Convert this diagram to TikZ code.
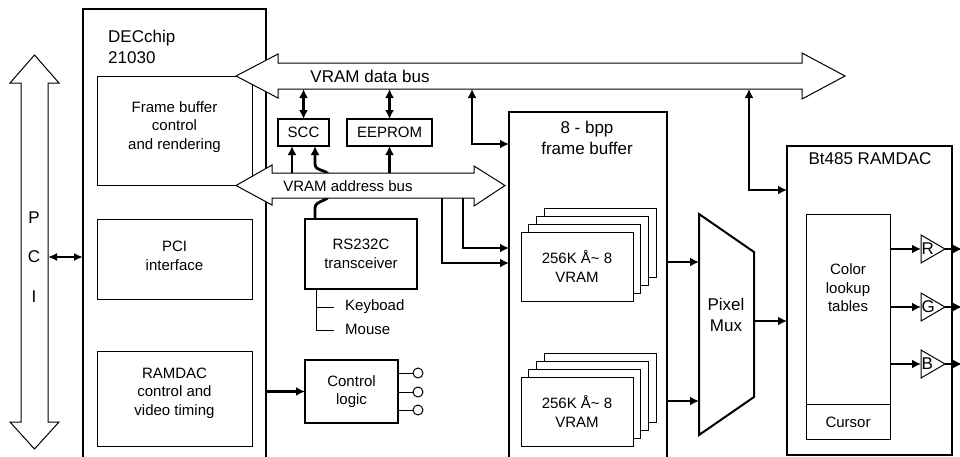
\documentclass[tikz,border=0pt]{standalone}
\usepackage{fontspec}
\setmainfont{Liberation Sans}
\usetikzlibrary{arrows.meta,calc}
\newcommand\fsA{\fontsize{15}{18.5}\selectfont}
\newcommand\fsB{\fontsize{17}{21}\selectfont}
\tikzset{
 thinbox/.style={draw, line width=1pt, inner sep=0pt, outer sep=0pt, fill=white},
 thickbox/.style={draw, line width=2pt, inner sep=0pt, outer sep=0pt, fill=white},
 txt/.style={align=center, font=\fsA, inner sep=0pt},
 bigtxt/.style={align=center, font=\fsB, inner sep=0pt},
 bus/.style={draw, line width=1pt, fill=white, line join=miter},
 conn/.style={line width=2.8pt, -{Latex[length=9pt,width=9pt]}},
 dconn/.style={line width=2.8pt, {Latex[length=9pt,width=9pt]}-{Latex[length=9pt,width=9pt]}},
 pconn/.style={line width=2.3pt, {Latex[length=9pt,width=8pt]}-{Latex[length=9pt,width=8pt]}},
 wire/.style={line width=1pt},
}
\begin{document}
\begin{tikzpicture}[x=1pt,y=-1pt]
\useasboundingbox (0,0) rectangle (960,456);
\fill[white] (0,0) rectangle (960,456);

% PCI bus arrow
\draw[bus] (34.5,55) -- (59,83) -- (48,83) -- (48,422) -- (59,422) -- (34.5,449)
  -- (10,422) -- (21,422) -- (21,83) -- (10,83) -- cycle;
\node[bigtxt] (pP) at (34,218) {P};
\node[bigtxt] (pC) at (34,257) {C};
\node[bigtxt] (pI) at (34,297) {I};

% DECchip
\node[thickbox, minimum width=183pt, minimum height=461pt] (chip) at (174.5,239.5) {};
\node[bigtxt, align=left, anchor=west] (chipt) at (108,46.5) {DECchip\\21030};
\node[thinbox, minimum width=155pt, minimum height=109pt] (fbc) at (174.5,130.5) {};
\node[txt] (fbct) at (174.5,127) {Frame buffer\\control\\and rendering};
\node[thinbox, minimum width=155pt, minimum height=80pt] (pcib) at (174.5,259) {};
\node[txt] (pcit) at (174.5,256) {PCI\\interface};
\node[thinbox, minimum width=155pt, minimum height=95pt] (rdc) at (174.5,398.5) {};
\node[txt] (rdct) at (174.5,393) {RAMDAC\\control and\\video timing};

% small boxes
\node[thickbox, minimum width=51pt, minimum height=27pt, font=\fsA] (scc) at (303.5,132.5) {SCC};
\node[thickbox, minimum width=85pt, minimum height=27pt, font=\fsA] (eep) at (389.5,132.5) {EEPROM};
\node[thickbox, minimum width=112pt, minimum height=70pt, txt] (rs) at (361,254) {RS232C\\transceiver};
\node[thickbox, minimum width=93pt, minimum height=63pt, txt] (ctl) at (351.5,391.5) {Control\\logic};

% hop wire RS232C -> SCC
\coordinate (hopB) at ($(rs.north)+(-46,0)$);
\coordinate (hopT) at ($(scc.south)+(11.5,0)$);
\draw[conn] (hopB) -- (315,208) .. controls (315,200) and (329,202) .. (329,194)
  -- (329,177) .. controls (329,169) and (315,172) .. (315,164) -- (hopT);

% buses
\draw[bus] (236,76) -- (278,54) -- (278,63) -- (802,63) -- (802,53) -- (845,76)
  -- (802,99) -- (802,89) -- (278,89) -- (278,98) -- cycle;
\node[bigtxt] (dbt) at (370,76) {VRAM data bus};
\draw[bus] (236,185.5) -- (272,165) -- (272,173) -- (474,173) -- (474,166) -- (505,185.5)
  -- (474,206) -- (474,198) -- (272,198) -- (272,205) -- cycle;
\node[txt] (abt) at (348,186) {VRAM address bus};
\coordinate (dbB) at (0,89);
\coordinate (abT) at (0,173);
\coordinate (abB) at (0,198);

% frame buffer
\node[thickbox, minimum width=158pt, minimum height=360pt] (fb) at (588,292) {};
\node[bigtxt] (fbt) at (587,138) {8 - bpp\\frame buffer};
\foreach \k in {3,2,1}{
  \node[thinbox, minimum width=112pt, minimum height=69pt] (va\k) at ($(577,266.5)+(7.7*\k,-7.7*\k)$) {};
}
\node[thinbox, minimum width=112pt, minimum height=69pt, txt] (va0) at (577,266.5) {256K Å\textasciitilde{} 8\\VRAM};
\foreach \k in {3,2,1}{
  \node[thinbox, minimum width=112pt, minimum height=69pt] (vb\k) at ($(577,411.5)+(7.7*\k,-7.7*\k)$) {};
}
\node[thinbox, minimum width=112pt, minimum height=69pt, txt] (vb0) at (577,411.5) {256K Å\textasciitilde{} 8\\VRAM};

% pixel mux
\coordinate (mTL) at (699,214);
\coordinate (mTR) at (754,252);
\coordinate (mBR) at (754,397);
\coordinate (mBL) at (699,435);
\draw[line width=2pt, line join=miter] (mTL) -- (mTR) -- (mBR) -- (mBL) -- cycle;
\node[bigtxt] (muxt) at (726,315) {Pixel\\Mux};

% RAMDAC
\node[thickbox, minimum width=165pt, minimum height=309pt] (ramdac) at (869.5,300.5) {};
\node[bigtxt] (rdt) at (870,159) {Bt485 RAMDAC};
\node[thinbox, minimum width=84pt, minimum height=225pt] (clut) at (848,326.5) {};
\coordinate (cdiv) at (848,404);
\draw[wire] (cdiv -| clut.west) -- (cdiv -| clut.east);
\node[txt] (clutt) at (848,288) {Color\\lookup\\tables};
\node[txt] (curt) at (848,422) {Cursor};
\foreach \n/\y in {R/249,G/307,B/364}{
  \coordinate (in\n) at (921,\y);
  \coordinate (out\n) at (945,\y);
  \draw[wire, fill=white, line join=miter] (921,\y-14) -- (out\n) -- (921,\y+14) -- cycle;
  \node[bigtxt, anchor=west] (t\n) at (921.5,\y) {\n};
  \draw[conn] (in\n -| clut.east) -- (in\n);
  \draw[conn] (out\n) -- ++(17,0);
}

% connectors
\coordinate (pciR) at (48,257);
\draw[pconn] (pciR) -- (pciR -| chip.west);
\coordinate (sccA) at ($(scc.south)+(-11.5,0)$);
\draw[conn] (sccA |- abT) -- (sccA);
\draw[dconn] (scc.north |- dbB) -- (scc.north);
\draw[dconn] (eep.north |- dbB) -- (eep.north);
\draw[conn] (eep.south |- abT) -- (eep.south);
\coordinate (c1) at (472,144);
\draw[dconn] (c1 |- dbB) -- (c1) -- (c1 -| fb.west);
\coordinate (c2) at (463,248);
\draw[conn] (c2 |- abB) -- (c2) -- (c2 -| fb.west);
\coordinate (c3) at (442,263);
\draw[conn] (c3 |- abB) -- (c3) -- (c3 -| fb.west);
\coordinate (c4) at (699,262);
\draw[conn] (c4 -| fb.east) -- (c4);
\coordinate (c5) at (699,401);
\draw[conn] (c5 -| fb.east) -- (c5);
\coordinate (c6) at (754,321);
\draw[conn] (c6) -- (c6 -| ramdac.west);
\coordinate (c7) at (749,190);
\draw[dconn] (c7 |- dbB) -- (c7) -- (c7 -| ramdac.west);
\draw[conn] (ctl.west -| chip.east) -- (ctl.west);

% control outputs
\foreach \y in {373,392,410}{
  \coordinate (o\y) at (413,\y);
  \draw[wire] (o\y -| ctl.east) -- (o\y);
  \draw[wire] (418,\y) circle (5);
}

% keyboard / mouse
\coordinate (kb) at (316,307);
\coordinate (ms) at (316,330);
\draw[wire] (kb |- rs.south) -- (ms) -- ++(18,0);
\draw[wire] (kb) -- ++(18,0);
\node[txt, anchor=west] (kbt) at (345,307) {Keyboad};
\node[txt, anchor=west] (mst) at (345,329) {Mouse};
\end{tikzpicture}
\end{document}
